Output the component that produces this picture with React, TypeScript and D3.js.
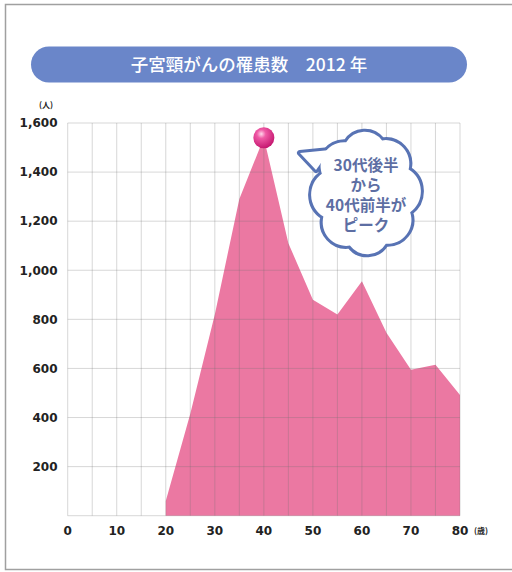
import React from "react";
import * as d3 from "d3";

const ages = [20, 25, 30, 35, 40, 45, 50, 55, 60, 65, 70, 75, 80];
const cases = [60, 415, 820, 1290, 1540, 1110, 880, 820, 955, 745, 595, 615, 492];
const xTicks = [0, 10, 20, 30, 40, 50, 60, 70, 80];
const yTicks = [200, 400, 600, 800, 1000, 1200, 1400, 1600];
const title = "子宮頸がんの罹患数　2012 年";
const bubbleLines = ["30代後半", "から", "40代前半が", "ピーク"];
const peakAge = 40;
const peakValue = 1540;

const W = 512;
const H = 572;

function cloudPath(cx: number, cy: number, rx: number, ry: number, n: number, offset: number) {
  const pts: [number, number][] = [];
  for (let i = 0; i < n; i++) {
    const a = offset + (i / n) * Math.PI * 2;
    pts.push([cx + rx * Math.cos(a), cy + ry * Math.sin(a)]);
  }
  let d = `M${pts[0][0]},${pts[0][1]}`;
  for (let i = 0; i < n; i++) {
    const p = pts[(i + 1) % n];
    const q = pts[i];
    const chord = Math.hypot(p[0] - q[0], p[1] - q[1]);
    const r = chord * 0.6;
    d += ` A${r},${r} 0 0 1 ${p[0]},${p[1]}`;
  }
  return d + "Z";
}

export default function App() {
  const x = d3.scaleLinear().domain([0, 80]).range([67.7, 460]);
  const y = d3.scaleLinear().domain([0, 1600]).range([515.7, 123]);
  const data = ages.map((a, i) => ({ a, v: cases[i] }));
  const area = d3
    .area<{ a: number; v: number }>()
    .x((d) => x(d.a))
    .y0(y(0))
    .y1((d) => y(d.v));
  const vLines = d3.range(0, 81, 5);
  const hLines = d3.range(0, 1601, 200);

  const cloud = cloudPath(366, 193, 47, 56, 8, -Math.PI / 2 + 0.35);
  const tail = "M316,170 L300,153 L330,150 Z";
  const blue = "#5873b4";
  const numFont = "'DejaVu Sans', sans-serif";
  const jpFont = "'Noto Sans CJK JP', sans-serif";

  return (
    <svg width={W} height={H} style={{ position: "absolute", left: 0, top: 0 }}>
      <defs>
        <radialGradient id="ball" cx="0.38" cy="0.32" r="0.7">
          <stop offset="0" stopColor="#ffd6ea" />
          <stop offset="0.3" stopColor="#f05aa6" />
          <stop offset="1" stopColor="#c4166f" />
        </radialGradient>
      </defs>
      <rect x={0} y={0} width={W} height={H} fill="#fff" />
      <rect x={5.5} y={4.5} width={530} height={565} fill="none" stroke="#a0a0a0" strokeWidth={1.5} />

      {/* title banner */}
      <rect x={31} y={46.5} width={436} height={36} rx={18} ry={18} fill="#6a86c9" />
      <text x={249} y={71} textAnchor="middle" fill="#fff" fontFamily={jpFont} fontSize={17.5} fontWeight={500}>
        {title}
      </text>

      {/* area */}
      <path d={area(data) || ""} fill="#eb78a2" />

      {/* grid */}
      {vLines.map((v) => (
        <line key={"v" + v} x1={x(v)} x2={x(v)} y1={y(1600)} y2={y(0)} stroke="rgba(110,110,110,0.28)" strokeWidth={1} />
      ))}
      {hLines.map((v) => (
        <line key={"h" + v} x1={x(0)} x2={x(80)} y1={y(v)} y2={y(v)} stroke="rgba(110,110,110,0.28)" strokeWidth={1} />
      ))}

      {/* y labels */}
      {yTicks.map((v) => (
        <text key={"yt" + v} x={57.5} y={y(v) + 4.3} textAnchor="end" fontFamily={numFont} fontWeight="bold" fontSize={12} fill="#222">
          {d3.format(",")(v)}
        </text>
      ))}
      <text x={46} y={108} textAnchor="middle" fontFamily={jpFont} fontWeight="bold" fontSize={8} fill="#222">
        (人)
      </text>

      {/* x labels */}
      {xTicks.map((v) => (
        <text key={"xt" + v} x={x(v)} y={535} textAnchor="middle" fontFamily={numFont} fontWeight="bold" fontSize={12} fill="#222">
          {v}
        </text>
      ))}
      <text x={481} y={534} textAnchor="middle" fontFamily={jpFont} fontWeight="bold" fontSize={8} fill="#222">
        (歳)
      </text>

      {/* peak ball */}
      <circle cx={x(peakAge)} cy={y(peakValue)} r={10.5} fill="url(#ball)" />

      {/* bubble */}
      <path d={tail} fill="#fff" stroke={blue} strokeWidth={6} strokeLinejoin="round" />
      <path d={cloud} fill="#fff" stroke={blue} strokeWidth={6} strokeLinejoin="round" />
      <path d={tail} fill="#fff" />
      <path d={cloud} fill="#fff" />
      {bubbleLines.map((t, i) => (
        <text key={t} x={366} y={171 + i * 20} textAnchor="middle" fontFamily={jpFont} fontWeight="bold" fontSize={15.5} fill="#5d6ea3">
          {t}
        </text>
      ))}
    </svg>
  );
}
